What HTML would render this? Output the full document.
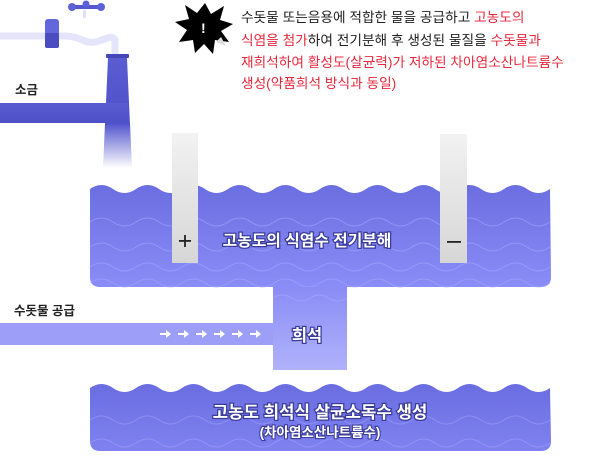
<!DOCTYPE html>
<html><head><meta charset="utf-8"><style>
body{margin:0;background:#fff;}
svg{display:block;font-family:"Liberation Sans","Noto Sans CJK KR",sans-serif;}
</style></head><body>
<svg width="604" height="460" viewBox="0 0 604 460" xmlns="http://www.w3.org/2000/svg">
<defs>
<linearGradient id="tank" x1="0" y1="0" x2="0" y2="1"><stop offset="0" stop-color="#6b6ee0"/><stop offset="1" stop-color="#8a8cf7"/></linearGradient>
<linearGradient id="tank2" x1="0" y1="0" x2="0" y2="1"><stop offset="0" stop-color="#6a6de0"/><stop offset="1" stop-color="#7f82f0"/></linearGradient>
<linearGradient id="conn" x1="0" y1="0" x2="0" y2="1"><stop offset="0" stop-color="#8a8cf5"/><stop offset="1" stop-color="#b0b2fb"/></linearGradient>
<linearGradient id="stream" x1="0" y1="0" x2="0" y2="1"><stop offset="0" stop-color="#5153cc"/><stop offset="1" stop-color="#5153cc" stop-opacity="0"/></linearGradient>
<linearGradient id="elec" x1="0" y1="0" x2="0" y2="1"><stop offset="0" stop-color="#f2f2f2"/><stop offset="1" stop-color="#d6d6d6"/></linearGradient>
<linearGradient id="pipe" x1="0" y1="0" x2="0" y2="1"><stop offset="0" stop-color="#5a5cd2"/><stop offset="1" stop-color="#4e50c8"/></linearGradient>
</defs>

<!-- faucet -->
<path d="M0,36 H65 C80,36 85,44 95,42 C105,40 112,34 115,40 V55" fill="none" stroke="#e4e4fb" stroke-width="7"/>
<rect x="45" y="19" width="14" height="29" rx="3" fill="#6466dc"/>
<rect x="45" y="33" width="14" height="15" rx="2" fill="#4a4cc0"/>
<rect x="83" y="10" width="3" height="8" fill="#e0e0fa"/>
<rect x="70" y="5" width="33" height="4" fill="#5557cf"/>
<circle cx="72" cy="7" r="4" fill="#5e60d8"/><circle cx="101" cy="7" r="4" fill="#5e60d8"/><circle cx="86" cy="4" r="3.5" fill="#5e60d8"/>

<!-- salt pipe -->
<rect x="106" y="54" width="23" height="4" rx="1" fill="#4547b8"/>
<path d="M108,58 H127 L130,125 H105 Z" fill="url(#pipe)"/>
<rect x="0" y="103" width="128" height="20" fill="url(#pipe)"/>
<path d="M105,123 H130 L132,168 H103 Z" fill="url(#stream)"/>
<text x="15" y="94" font-size="12.5" font-weight="bold" fill="#222">소금</text>

<!-- starburst -->
<polygon points="205,3 211,14 224,6 220,20 233,24 221,31 229,42 215,40 213,54 204,44 195,53 193,40 179,42 187,30 175,22 189,19 185,5 197,13" fill="#000"/>
<polygon points="216,42 226,46 221,37" fill="#ddd"/>
<text x="201" y="33" font-size="14" font-weight="bold" fill="#fff">!</text>

<g font-size="13.7" fill="#222">
<text x="241" y="22">수돗물 또는음용에 적합한 물을 공급하고  <tspan fill="#e8283c">고농도의</tspan></text>
<text x="241" y="45"><tspan fill="#e8283c">식염을 첨가</tspan>하여 전기분해 후 생성된 물질을 <tspan fill="#e8283c">수돗물과</tspan></text>
<text x="241" y="67" fill="#e8283c">재희석하여 활성도(살균력)가 저하된 차아염소산나트륨수</text>
<text x="241" y="88" fill="#e8283c">생성(약품희석 방식과 동일)</text>
</g>

<!-- top tank -->
<path d="M90,189 q11.5,-8 23,0 t23,0 t23,0 t23,0 t23,0 t23,0 t23,0 t23,0 t23,0 t23,0 t23,0 t23,0 t23,0 t23,0 t23,0 t23,0 t23,0 t23,0 t23,0 t23,0 L551,277 q0,10 -10,10 H100 q-10,0 -10,-10 Z" fill="url(#tank)"/>
<g fill="none" stroke="#a5a7ff" stroke-width="1" opacity="0.6">
<path d="M90,222 q11.5,-8 23,0 t23,0 t23,0 t23,0 t23,0 t23,0 t23,0 t23,0 t23,0 t23,0 t23,0 t23,0 t23,0 t23,0 t23,0 t23,0 t23,0 t23,0 t23,0 t23,0"/>
<path d="M90,247 q11.5,-8 23,0 t23,0 t23,0 t23,0 t23,0 t23,0 t23,0 t23,0 t23,0 t23,0 t23,0 t23,0 t23,0 t23,0 t23,0 t23,0 t23,0 t23,0 t23,0 t23,0"/>
<path d="M90,267 q11.5,-8 23,0 t23,0 t23,0 t23,0 t23,0 t23,0 t23,0 t23,0 t23,0 t23,0 t23,0 t23,0 t23,0 t23,0 t23,0 t23,0 t23,0 t23,0 t23,0 t23,0"/>
<path d="M90,283 q11.5,-8 23,0 t23,0 t23,0 t23,0 t23,0 t23,0 t23,0 t23,0 t23,0 t23,0 t23,0 t23,0 t23,0 t23,0 t23,0 t23,0 t23,0 t23,0 t23,0 t23,0"/>
</g>
<rect x="172" y="133" width="26" height="130" fill="url(#elec)"/>
<rect x="440" y="134" width="27" height="129" fill="url(#elec)"/>
<rect x="179" y="240" width="12" height="1.8" fill="#222"/>
<rect x="184.1" y="235" width="1.8" height="12" fill="#222"/>
<rect x="447" y="241" width="14" height="1.8" fill="#222"/>
<text x="307" y="246" font-size="15.8" font-weight="bold" text-anchor="middle" fill="#fff" stroke="#3b3c9a" stroke-width="2.5" paint-order="stroke">고농도의 식염수 전기분해</text>

<!-- connector + supply -->
<rect x="0" y="323" width="275" height="22" fill="#9c9ef8"/>
<rect x="273" y="287" width="74" height="83" fill="url(#conn)"/>
<path d="M273,298 q9,-6 18.5,0 t18.5,0 t18.5,0 t18.5,0" fill="none" stroke="#a5a7ff" opacity="0.7"/>
<g fill="#fff">
<g id="ar"><rect x="160" y="333" width="7" height="2"/><polygon points="166,330 171,334 166,338"/></g>
<use href="#ar" x="18"/><use href="#ar" x="36"/><use href="#ar" x="54"/><use href="#ar" x="72"/><use href="#ar" x="90"/>
</g>
<text x="14" y="315" font-size="12.5" font-weight="bold" fill="#222">수돗물 공급</text>
<text x="307" y="341" font-size="16.5" font-weight="bold" text-anchor="middle" fill="#fff" stroke="#3b3c9a" stroke-width="2.5" paint-order="stroke">희석</text>

<!-- bottom tank -->
<path d="M90,388 q11.5,-8 23,0 t23,0 t23,0 t23,0 t23,0 t23,0 t23,0 t23,0 t23,0 t23,0 t23,0 t23,0 t23,0 t23,0 t23,0 t23,0 t23,0 t23,0 t23,0 t23,0 L551,441 q0,10 -10,10 H100 q-10,0 -10,-10 Z" fill="url(#tank2)"/>
<g fill="none" stroke="#a5a7ff" stroke-width="1" opacity="0.5">
<path d="M90,420 q11.5,-8 23,0 t23,0 t23,0 t23,0 t23,0 t23,0 t23,0 t23,0 t23,0 t23,0 t23,0 t23,0 t23,0 t23,0 t23,0 t23,0 t23,0 t23,0 t23,0 t23,0"/>
<path d="M90,443 q11.5,-8 23,0 t23,0 t23,0 t23,0 t23,0 t23,0 t23,0 t23,0 t23,0 t23,0 t23,0 t23,0 t23,0 t23,0 t23,0 t23,0 t23,0 t23,0 t23,0 t23,0"/>
</g>
<text x="320" y="418" font-size="16.8" font-weight="bold" text-anchor="middle" fill="#fff" stroke="#3b3c9a" stroke-width="2.5" paint-order="stroke">고농도 희석식 살균소독수 생성</text>
<text x="320" y="437" font-size="13.5" font-weight="bold" text-anchor="middle" fill="#fff" stroke="#3b3c9a" stroke-width="2.2" paint-order="stroke">(차아염소산나트륨수)</text>
</svg>
</body></html>
